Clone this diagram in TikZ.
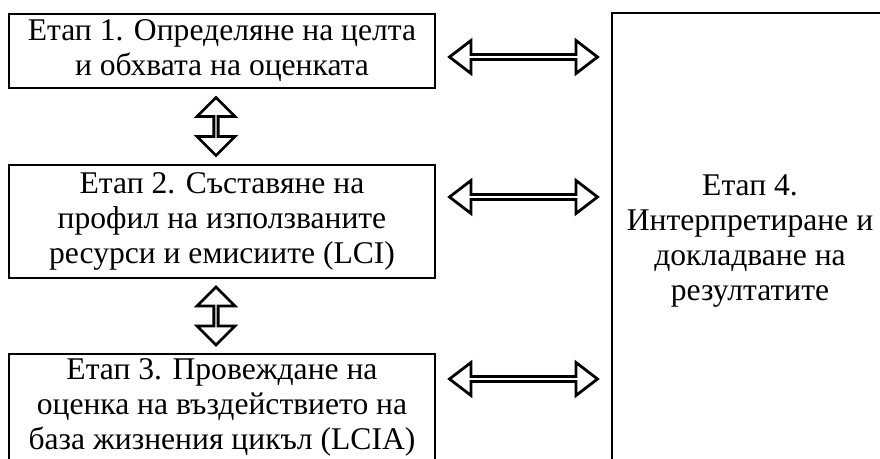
\documentclass[tikz,border=0pt]{standalone}
\usepackage{fontspec}
\setmainfont{Liberation Serif}
\usetikzlibrary{positioning,calc,shapes.arrows}

\begin{document}
\begin{tikzpicture}[
  x=1pt, y=1pt,
  stage/.style={rectangle, draw, line width=1pt, minimum width=213pt, align=center,
    inner sep=0pt, font=\fontsize{15.8}{17.5}\selectfont},
  harrow/.style={double arrow, draw, line width=1.4pt, inner sep=0pt,
    minimum height=74pt, minimum width=16.5pt, double arrow head extend=4pt,
    double arrow tip angle=75},
  varrow/.style={harrow, rotate=90, minimum height=29pt, minimum width=19pt,
    double arrow head extend=5.5pt, double arrow tip angle=90}
]
  \clip (0,0) rectangle (440,229.5);

  \node[stage, minimum height=37pt] (b1) at (111,204) {Етап 1. Определяне на целта\\и обхвата на оценката};
  \node[stage, minimum height=56.5pt, below=37.5pt of b1] (b2) {Етап 2. Съставяне на\\профил на използваните\\ресурси и емисиите (LCI)};
  \node[stage, minimum height=53pt, below=37pt of b2] (b3) {Етап 3. Провеждане на\\оценка на въздействието на\\база жизнения цикъл (LCIA)};
  \node[stage, minimum width=138pt, minimum height=228.5pt, anchor=north west]
    (b4) at ($(b1.north east)+(87.5pt,0.5pt)$) {Етап 4.\\Интерпретиране и\\докладване на\\резултатите};

  % links to stage 4
  \node[harrow, yshift=-3pt] (a1) at ($(b1.east)!0.5!(b1.east -| b4.west)$) {};
  \node[harrow, yshift=12.25pt] (a2) at ($(b2.east)!0.5!(b2.east -| b4.west)$) {};
  \node[harrow, yshift=-13pt] (a3) at ($(b3.north east)!0.5!(b3.north east -| b4.west)$) {};

  % links between stages
  \node[varrow] (v12) at ($(b1.south)!0.5!(b2.north)+(-3pt,0)$) {};
  \node[varrow] (v23) at ($(b2.south)!0.5!(b3.north)+(-3pt,0)$) {};
\end{tikzpicture}
\end{document}
